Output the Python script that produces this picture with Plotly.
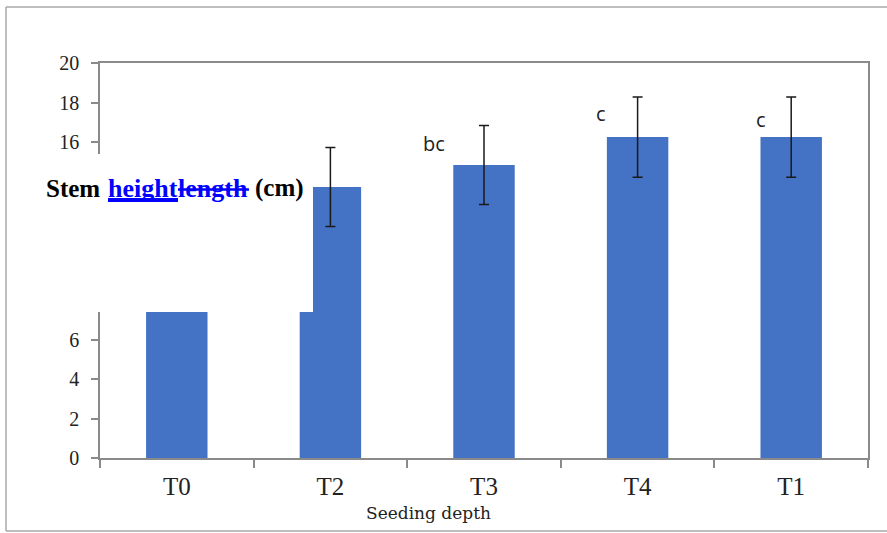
import plotly.graph_objects as go

# Stem height by seeding depth treatment
categories = ["T0", "T2", "T3", "T4", "T1"]
means = [10.5, 13.72, 14.84, 16.25, 16.25]
errors = [2.0, 2.0, 2.0, 2.03, 2.03]
letters = ["", "", "bc", "c", "c"]
letter_shift = [(0, 0), (0, 0), (-50, -18), (-37, -17), (-30, -23)]
ytick_vals = [0, 2, 4, 6, 16, 18, 20]

W, H = 887, 533
ML, MR, MT, MB = 100, 19, 63, 75
PW, PH = W - ML - MR, H - MT - MB


def px(x):
    return (x - ML) / PW


def py(y):
    return (H - MB - y) / PH


BAR = "#4472C4"
AXIS = "#8a8a8a"
FRAME = "#a8a8a8"
SERIF = "Liberation Serif"

fig = go.Figure(
    go.Bar(
        x=categories,
        y=means,
        marker=dict(color=BAR, line=dict(width=0)),
        error_y=dict(type="data", array=errors, color="#1a1a1a", thickness=1.5, width=5),
        hoverinfo="skip",
    )
)

annotations = []
for cat, m, e, lab, (dx, dy) in zip(categories, means, errors, letters, letter_shift):
    if lab:
        annotations.append(dict(
            x=cat, y=m + e, xref="x", yref="y", text=lab, showarrow=False,
            xshift=dx, yshift=dy, font=dict(family="Open Sans", size=20, color="#222"),
        ))

# axis label with its tracked edit
title_font = dict(family=SERIF, size=25, color="black", weight="bold")
edit_font = dict(family=SERIF, size=26, color="#0000FF", weight="bold")
ty = py(188)
for txt, x0, f in [("Stem", 45, title_font), ("height", 107, edit_font),
                   ("length", 177, edit_font), ("(cm)", 254, title_font)]:
    annotations.append(dict(
        x=px(x0), y=ty, xref="paper", yref="paper", xanchor="left", yanchor="middle",
        text=f"<b>{txt}</b>", showarrow=False, font=f, borderpad=0,
    ))

annotations.append(dict(
    x=px(428.5), y=py(513), xref="paper", yref="paper", xanchor="center", yanchor="middle",
    text="Seeding depth", showarrow=False,
    font=dict(family="DejaVu Serif", size=17, color="#222"),
))

frame = dict(color=FRAME, width=1.5)
shapes = [
    # outer chart frame (left, top, bottom edges)
    dict(type="line", xref="paper", yref="paper", x0=px(6), x1=px(6), y0=py(531), y1=py(7), line=frame),
    dict(type="line", xref="paper", yref="paper", x0=px(6), x1=px(900), y0=py(7), y1=py(7), line=frame),
    dict(type="line", xref="paper", yref="paper", x0=px(6), x1=px(900), y0=py(531), y1=py(531), line=frame),
    # white label box
    dict(type="rect", xref="paper", yref="paper", x0=px(35), x1=px(313), y0=py(312), y1=py(154),
         line=dict(width=0), fillcolor="white", layer="above"),
    # underline on inserted word
    dict(type="line", xref="paper", yref="paper", x0=px(108), x1=px(178), y0=py(200), y1=py(200),
         line=dict(color="#0000FF", width=4), layer="above"),
    # strike-through on deleted word
    dict(type="line", xref="paper", yref="paper", x0=px(178), x1=px(249), y0=py(189.5), y1=py(189.5),
         line=dict(color="#0000FF", width=2.5), layer="above"),
]

fig.update_layout(
    width=W, height=H,
    margin=dict(l=ML, r=MR, t=MT, b=MB),
    paper_bgcolor="white", plot_bgcolor="white",
    bargap=0.6,
    showlegend=False,
    annotations=annotations,
    shapes=shapes,
    xaxis=dict(
        type="category", showline=True, linecolor=AXIS, linewidth=1.5, mirror=True,
        ticks="outside", tickson="boundaries", ticklen=8, tickcolor=AXIS, tickwidth=1.5,
        tickfont=dict(family=SERIF, size=25, color="#222"), showgrid=False,
        ticklabelstandoff=5,
    ),
    yaxis=dict(
        range=[0, 20], tickvals=ytick_vals, showline=True, linecolor=AXIS, linewidth=1.5, mirror=True,
        ticks="outside", ticklen=7, tickcolor=AXIS, tickwidth=1.5,
        tickfont=dict(family=SERIF, size=20, color="#222"), showgrid=False, zeroline=False,
        ticklabelstandoff=8,
    ),
)

fig.write_html("out.html")
